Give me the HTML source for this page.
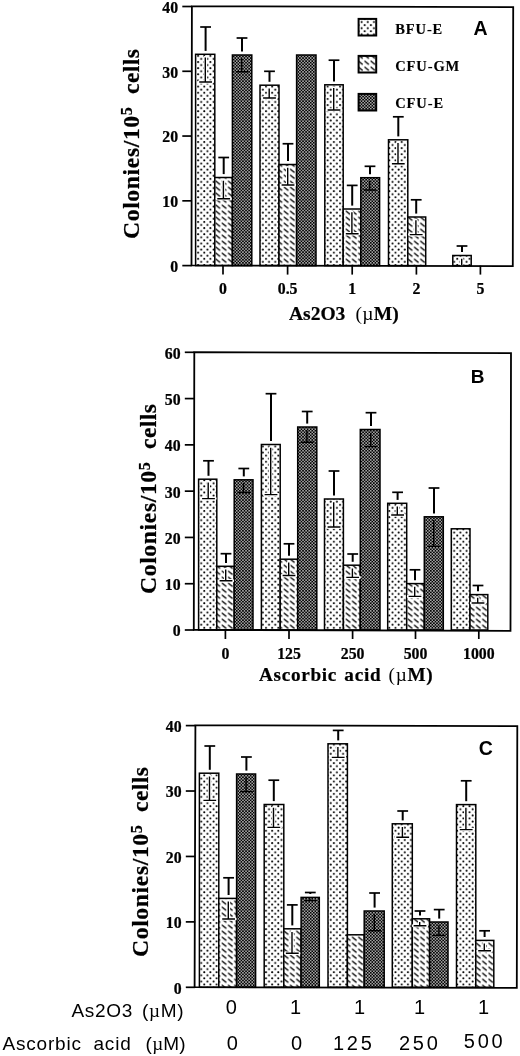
<!DOCTYPE html>
<html lang="en">
<head>
<meta charset="utf-8">
<title>Colonies per 10^5 cells - As2O3 and ascorbic acid</title>
<style>
html,body{margin:0;padding:0;background:#fff;}
body{width:520px;height:1056px;overflow:hidden;}
svg{display:block;}
.tb{font-family:"Liberation Serif","DejaVu Serif",serif;font-weight:bold;fill:#000;stroke:#000;stroke-width:0.35px;}
.tk{stroke-width:0.25px;}
.xt{stroke-width:0.2px;}
.yt{stroke-width:0.22px;}
.lg{stroke-width:0.15px;}
.tr{font-family:"Liberation Serif","DejaVu Serif",serif;font-weight:normal;stroke:none;}
.sy{font-family:"Liberation Serif","DejaVu Serif",serif;font-weight:normal;stroke:none;}
.hb{font-family:"Liberation Sans","DejaVu Sans",sans-serif;font-weight:bold;fill:#000;}
.hr{font-family:"Liberation Sans","DejaVu Sans",sans-serif;font-weight:normal;fill:#000;}
</style>
</head>
<body>
<svg width="520" height="1056">
<defs>
<pattern id="dots" patternUnits="userSpaceOnUse" width="6.17" height="6.15" x="2.26" y="2.15">
<rect width="6.17" height="6.15" fill="#fff"/>
<circle cx="1.5" cy="1.5" r="1.02" fill="#000"/>
<circle cx="4.58" cy="4.57" r="1.02" fill="#000"/>
</pattern>
<pattern id="diag" patternUnits="userSpaceOnUse" width="6.2" height="6" x="4.3" y="0.3">
<rect width="6.2" height="6" fill="#fff"/>
<path d="M1 0.9L4.7 3.9" stroke="#000" stroke-width="1.35" stroke-linecap="round"/>
</pattern>
<pattern id="dark" patternUnits="userSpaceOnUse" width="3.08" height="3.08" x="0.4" y="0.3">
<rect width="3.08" height="3.08" fill="#000"/>
<rect x="0" y="0" width="1.54" height="1.54" fill="#a4a4a4"/>
<rect x="1.54" y="1.54" width="1.54" height="1.54" fill="#a4a4a4"/>
</pattern>
</defs>
<rect width="520" height="1056" fill="#fff"/>
<!-- Panel A -->
<rect x="195.6" y="54.3" width="19.2" height="211.3" fill="url(#dots)" stroke="#000" stroke-width="1.5"/>
<rect x="214.8" y="177.5" width="17.6" height="88.1" fill="url(#diag)" stroke="#000" stroke-width="1.5"/>
<rect x="232.4" y="55" width="19.4" height="210.6" fill="url(#dark)" stroke="#000" stroke-width="1.5"/>
<rect x="260" y="85.2" width="19" height="180.4" fill="url(#dots)" stroke="#000" stroke-width="1.5"/>
<rect x="279" y="164.5" width="17.6" height="101.1" fill="url(#diag)" stroke="#000" stroke-width="1.5"/>
<rect x="296.6" y="55" width="19.4" height="210.6" fill="url(#dark)" stroke="#000" stroke-width="1.5"/>
<rect x="324.8" y="84.8" width="18.4" height="180.8" fill="url(#dots)" stroke="#000" stroke-width="1.5"/>
<rect x="343.2" y="209" width="17.6" height="56.6" fill="url(#diag)" stroke="#000" stroke-width="1.5"/>
<rect x="360.8" y="177.7" width="18.8" height="87.9" fill="url(#dark)" stroke="#000" stroke-width="1.5"/>
<rect x="388.5" y="139.8" width="19.3" height="125.8" fill="url(#dots)" stroke="#000" stroke-width="1.5"/>
<rect x="407.8" y="217" width="17.9" height="48.6" fill="url(#diag)" stroke="#000" stroke-width="1.5"/>
<rect x="452.8" y="255.5" width="18.4" height="10.1" fill="url(#dots)" stroke="#000" stroke-width="1.5"/>
<path d="M200.2 27H211" fill="none" stroke="#000" stroke-width="1.7"/>
<path d="M205.6 27V50.9" fill="none" stroke="#000" stroke-width="2"/>
<path d="M205.3 57.5V82M199.2 82H212" fill="none" stroke="#fff" stroke-width="3.6" stroke-linecap="round"/>
<path d="M205.3 57.5V82M199.2 82H212" fill="none" stroke="#000" stroke-width="1.4"/>
<path d="M218.3 157.5H229.1" fill="none" stroke="#000" stroke-width="1.7"/>
<path d="M223.7 157.5V174.1" fill="none" stroke="#000" stroke-width="2"/>
<path d="M223.4 180.7V198.75M217.3 198.75H230.1" fill="none" stroke="#fff" stroke-width="3.6" stroke-linecap="round"/>
<path d="M223.4 180.7V198.75M217.3 198.75H230.1" fill="none" stroke="#000" stroke-width="1.4"/>
<path d="M236.6 38H247.4" fill="none" stroke="#000" stroke-width="1.7"/>
<path d="M242 38V51.6" fill="none" stroke="#000" stroke-width="2"/>
<path d="M241.7 58.2V71.8M235.6 71.8H248.4" fill="none" stroke="#000" stroke-width="1.4"/>
<path d="M264.1 71.3H274.9" fill="none" stroke="#000" stroke-width="1.7"/>
<path d="M269.5 71.3V81.8" fill="none" stroke="#000" stroke-width="2"/>
<path d="M269.2 88.4V98M263.1 98H275.9" fill="none" stroke="#fff" stroke-width="3.6" stroke-linecap="round"/>
<path d="M269.2 88.4V98M263.1 98H275.9" fill="none" stroke="#000" stroke-width="1.4"/>
<path d="M282.6 143.75H293.4" fill="none" stroke="#000" stroke-width="1.7"/>
<path d="M288 143.75V161.1" fill="none" stroke="#000" stroke-width="2"/>
<path d="M287.7 167.7V185M281.6 185H294.4" fill="none" stroke="#fff" stroke-width="3.6" stroke-linecap="round"/>
<path d="M287.7 167.7V185M281.6 185H294.4" fill="none" stroke="#000" stroke-width="1.4"/>
<path d="M328.6 60.2H339.4" fill="none" stroke="#000" stroke-width="1.7"/>
<path d="M334 60.2V81.4" fill="none" stroke="#000" stroke-width="2"/>
<path d="M333.7 88V110M327.6 110H340.4" fill="none" stroke="#fff" stroke-width="3.6" stroke-linecap="round"/>
<path d="M333.7 88V110M327.6 110H340.4" fill="none" stroke="#000" stroke-width="1.4"/>
<path d="M346.8 185.4H357.6" fill="none" stroke="#000" stroke-width="1.7"/>
<path d="M352.2 185.4V205.6" fill="none" stroke="#000" stroke-width="2"/>
<path d="M351.9 212.2V233.7M345.8 233.7H358.6" fill="none" stroke="#fff" stroke-width="3.6" stroke-linecap="round"/>
<path d="M351.9 212.2V233.7M345.8 233.7H358.6" fill="none" stroke="#000" stroke-width="1.4"/>
<path d="M364.6 166.3H375.4" fill="none" stroke="#000" stroke-width="1.7"/>
<path d="M370 166.3V174.3" fill="none" stroke="#000" stroke-width="2"/>
<path d="M369.7 180.9V190M363.6 190H376.4" fill="none" stroke="#000" stroke-width="1.4"/>
<path d="M392.9 116.8H403.7" fill="none" stroke="#000" stroke-width="1.7"/>
<path d="M398.3 116.8V136.4" fill="none" stroke="#000" stroke-width="2"/>
<path d="M398 143V163.8M391.9 163.8H404.7" fill="none" stroke="#fff" stroke-width="3.6" stroke-linecap="round"/>
<path d="M398 143V163.8M391.9 163.8H404.7" fill="none" stroke="#000" stroke-width="1.4"/>
<path d="M410.8 199.8H421.6" fill="none" stroke="#000" stroke-width="1.7"/>
<path d="M416.2 199.8V213.6" fill="none" stroke="#000" stroke-width="2"/>
<path d="M415.9 220.2V234.6M409.8 234.6H422.6" fill="none" stroke="#fff" stroke-width="3.6" stroke-linecap="round"/>
<path d="M415.9 220.2V234.6M409.8 234.6H422.6" fill="none" stroke="#000" stroke-width="1.4"/>
<path d="M456.6 246H467.4" fill="none" stroke="#000" stroke-width="1.7"/>
<path d="M462 246V252.1" fill="none" stroke="#000" stroke-width="2"/>
<path d="M461.7 258.7V265" fill="none" stroke="#fff" stroke-width="3.6" stroke-linecap="round"/>
<path d="M461.7 258.7V265" fill="none" stroke="#000" stroke-width="1.4"/>
<polygon points="191.9,6.3 513.2,7.1 512.8,266.2 191.5,265.4" fill="none" stroke="#000" stroke-width="1.8" stroke-linejoin="miter"/>
<path d="M182.3 265.6H191.7" stroke="#000" stroke-width="1.7"/>
<text transform="translate(178.1 272) scale(0.93 1)" text-anchor="end" class="tb tk" font-size="17">0</text>
<path d="M182.3 200.83H191.7" stroke="#000" stroke-width="1.7"/>
<text transform="translate(178.1 207.23) scale(0.93 1)" text-anchor="end" class="tb tk" font-size="17">10</text>
<path d="M182.3 136.05H191.7" stroke="#000" stroke-width="1.7"/>
<text transform="translate(178.1 142.45) scale(0.93 1)" text-anchor="end" class="tb tk" font-size="17">20</text>
<path d="M182.3 71.28H191.7" stroke="#000" stroke-width="1.7"/>
<text transform="translate(178.1 77.67) scale(0.93 1)" text-anchor="end" class="tb tk" font-size="17">30</text>
<path d="M182.3 6.5H191.7" stroke="#000" stroke-width="1.7"/>
<text transform="translate(178.1 12.9) scale(0.93 1)" text-anchor="end" class="tb tk" font-size="17">40</text>
<path d="M223 265.6V274.6" stroke="#000" stroke-width="1.7"/>
<text transform="translate(223 293.5) scale(0.93 1)" text-anchor="middle" class="tb tk" font-size="17">0</text>
<path d="M287.6 265.6V274.6" stroke="#000" stroke-width="1.7"/>
<text transform="translate(287.6 293.5) scale(0.93 1)" text-anchor="middle" class="tb tk" font-size="17">0.5</text>
<path d="M352.2 265.6V274.6" stroke="#000" stroke-width="1.7"/>
<text transform="translate(352.2 293.5) scale(0.93 1)" text-anchor="middle" class="tb tk" font-size="17">1</text>
<path d="M416.4 265.6V274.6" stroke="#000" stroke-width="1.7"/>
<text transform="translate(416.4 293.5) scale(0.93 1)" text-anchor="middle" class="tb tk" font-size="17">2</text>
<path d="M480.4 265.6V274.6" stroke="#000" stroke-width="1.7"/>
<text transform="translate(480.4 293.5) scale(0.93 1)" text-anchor="middle" class="tb tk" font-size="17">5</text>
<text transform="translate(139 239) rotate(-90)" class="tb yt" font-size="23.6" letter-spacing="0.65">Colonies/10<tspan font-size="16.05" dy="-7.08">5</tspan><tspan dy="7.08" letter-spacing="0.4" xml:space="preserve">  cells</tspan></text>
<text x="289" y="320" class="tb xt" font-size="19.5" xml:space="preserve">As2O3  <tspan class="tr" dx="0.5" letter-spacing="0.2">(</tspan><tspan class="sy" letter-spacing="0.2">µ</tspan><tspan letter-spacing="0.2">M)</tspan></text>
<text x="473.6" y="35" class="hb" font-size="19.5">A</text>
<rect x="358.6" y="18.9" width="17.6" height="16.6" fill="url(#dots)" stroke="#000" stroke-width="2"/>
<text x="395.2" y="33.8" class="tb lg" font-size="14.5" letter-spacing="0.9">BFU-E</text>
<rect x="358.6" y="55.9" width="17.6" height="16.6" fill="url(#diag)" stroke="#000" stroke-width="2"/>
<text x="395.2" y="70.8" class="tb lg" font-size="14.5" letter-spacing="0.9">CFU-GM</text>
<rect x="358.6" y="93.9" width="17.6" height="16.6" fill="url(#dark)" stroke="#000" stroke-width="2"/>
<text x="395.2" y="108.2" class="tb lg" font-size="14.5" letter-spacing="0.9">CFU-E</text>
<!-- Panel B -->
<rect x="198.6" y="479.2" width="18.2" height="150.8" fill="url(#dots)" stroke="#000" stroke-width="1.5"/>
<rect x="216.8" y="566.3" width="17.4" height="63.7" fill="url(#diag)" stroke="#000" stroke-width="1.5"/>
<rect x="234.2" y="479.8" width="18.8" height="150.2" fill="url(#dark)" stroke="#000" stroke-width="1.5"/>
<rect x="261.4" y="444.5" width="18.8" height="185.5" fill="url(#dots)" stroke="#000" stroke-width="1.5"/>
<rect x="280.2" y="559.2" width="17.5" height="70.8" fill="url(#diag)" stroke="#000" stroke-width="1.5"/>
<rect x="297.7" y="427" width="19.1" height="203" fill="url(#dark)" stroke="#000" stroke-width="1.5"/>
<rect x="324.5" y="499" width="18.9" height="131" fill="url(#dots)" stroke="#000" stroke-width="1.5"/>
<rect x="343.4" y="565.2" width="16.9" height="64.8" fill="url(#diag)" stroke="#000" stroke-width="1.5"/>
<rect x="360.3" y="429.5" width="19.7" height="200.5" fill="url(#dark)" stroke="#000" stroke-width="1.5"/>
<rect x="387.7" y="503.3" width="19" height="126.7" fill="url(#dots)" stroke="#000" stroke-width="1.5"/>
<rect x="406.7" y="583.6" width="17.6" height="46.4" fill="url(#diag)" stroke="#000" stroke-width="1.5"/>
<rect x="424.3" y="516.8" width="19" height="113.2" fill="url(#dark)" stroke="#000" stroke-width="1.5"/>
<rect x="451.3" y="528.8" width="18.7" height="101.2" fill="url(#dots)" stroke="#000" stroke-width="1.5"/>
<rect x="470" y="594.6" width="17.8" height="35.4" fill="url(#diag)" stroke="#000" stroke-width="1.5"/>
<path d="M203.1 460.8H213.9" fill="none" stroke="#000" stroke-width="1.7"/>
<path d="M208.5 460.8V475.8" fill="none" stroke="#000" stroke-width="2"/>
<path d="M208.2 482.4V498.6M202.1 498.6H214.9" fill="none" stroke="#fff" stroke-width="3.6" stroke-linecap="round"/>
<path d="M208.2 482.4V498.6M202.1 498.6H214.9" fill="none" stroke="#000" stroke-width="1.4"/>
<path d="M220.6 553.7H231.4" fill="none" stroke="#000" stroke-width="1.7"/>
<path d="M226 553.7V562.9" fill="none" stroke="#000" stroke-width="2"/>
<path d="M225.7 569.5V580.8M219.6 580.8H232.4" fill="none" stroke="#fff" stroke-width="3.6" stroke-linecap="round"/>
<path d="M225.7 569.5V580.8M219.6 580.8H232.4" fill="none" stroke="#000" stroke-width="1.4"/>
<path d="M238.4 468.5H249.2" fill="none" stroke="#000" stroke-width="1.7"/>
<path d="M243.8 468.5V476.4" fill="none" stroke="#000" stroke-width="2"/>
<path d="M243.5 483V492.5M237.4 492.5H250.2" fill="none" stroke="#000" stroke-width="1.4"/>
<path d="M265.6 393.7H276.4" fill="none" stroke="#000" stroke-width="1.7"/>
<path d="M271 393.7V441.1" fill="none" stroke="#000" stroke-width="2"/>
<path d="M270.7 447.7V494.6M264.6 494.6H277.4" fill="none" stroke="#fff" stroke-width="3.6" stroke-linecap="round"/>
<path d="M270.7 447.7V494.6M264.6 494.6H277.4" fill="none" stroke="#000" stroke-width="1.4"/>
<path d="M283.6 543.8H294.4" fill="none" stroke="#000" stroke-width="1.7"/>
<path d="M289 543.8V555.8" fill="none" stroke="#000" stroke-width="2"/>
<path d="M288.7 562.4V575.5M282.6 575.5H295.4" fill="none" stroke="#fff" stroke-width="3.6" stroke-linecap="round"/>
<path d="M288.7 562.4V575.5M282.6 575.5H295.4" fill="none" stroke="#000" stroke-width="1.4"/>
<path d="M301.8 411.5H312.6" fill="none" stroke="#000" stroke-width="1.7"/>
<path d="M307.2 411.5V423.6" fill="none" stroke="#000" stroke-width="2"/>
<path d="M306.9 430.2V442.3M300.8 442.3H313.6" fill="none" stroke="#000" stroke-width="1.4"/>
<path d="M328.6 471H339.4" fill="none" stroke="#000" stroke-width="1.7"/>
<path d="M334 471V495.6" fill="none" stroke="#000" stroke-width="2"/>
<path d="M333.7 502.2V527M327.6 527H340.4" fill="none" stroke="#fff" stroke-width="3.6" stroke-linecap="round"/>
<path d="M333.7 502.2V527M327.6 527H340.4" fill="none" stroke="#000" stroke-width="1.4"/>
<path d="M347.3 554H358.1" fill="none" stroke="#000" stroke-width="1.7"/>
<path d="M352.7 554V561.8" fill="none" stroke="#000" stroke-width="2"/>
<path d="M352.4 568.4V577.4M346.3 577.4H359.1" fill="none" stroke="#fff" stroke-width="3.6" stroke-linecap="round"/>
<path d="M352.4 568.4V577.4M346.3 577.4H359.1" fill="none" stroke="#000" stroke-width="1.4"/>
<path d="M365.6 412.7H376.4" fill="none" stroke="#000" stroke-width="1.7"/>
<path d="M371 412.7V426.1" fill="none" stroke="#000" stroke-width="2"/>
<path d="M370.7 432.7V446.6M364.6 446.6H377.4" fill="none" stroke="#000" stroke-width="1.4"/>
<path d="M392.2 492.3H403" fill="none" stroke="#000" stroke-width="1.7"/>
<path d="M397.6 492.3V499.9" fill="none" stroke="#000" stroke-width="2"/>
<path d="M397.3 506.5V515M391.2 515H404" fill="none" stroke="#fff" stroke-width="3.6" stroke-linecap="round"/>
<path d="M397.3 506.5V515M391.2 515H404" fill="none" stroke="#000" stroke-width="1.4"/>
<path d="M409.6 569.8H420.4" fill="none" stroke="#000" stroke-width="1.7"/>
<path d="M415 569.8V580.2" fill="none" stroke="#000" stroke-width="2"/>
<path d="M414.7 586.8V596.4M408.6 596.4H421.4" fill="none" stroke="#fff" stroke-width="3.6" stroke-linecap="round"/>
<path d="M414.7 586.8V596.4M408.6 596.4H421.4" fill="none" stroke="#000" stroke-width="1.4"/>
<path d="M428.6 488H439.4" fill="none" stroke="#000" stroke-width="1.7"/>
<path d="M434 488V513.4" fill="none" stroke="#000" stroke-width="2"/>
<path d="M433.7 520V546.4M427.6 546.4H440.4" fill="none" stroke="#000" stroke-width="1.4"/>
<path d="M472.6 585.5H483.4" fill="none" stroke="#000" stroke-width="1.7"/>
<path d="M478 585.5V591.2" fill="none" stroke="#000" stroke-width="2"/>
<path d="M477.7 597.8V603M471.6 603H484.4" fill="none" stroke="#fff" stroke-width="3.6" stroke-linecap="round"/>
<path d="M477.7 597.8V603M471.6 603H484.4" fill="none" stroke="#000" stroke-width="1.4"/>
<polygon points="194.3,352.2 511,353.1 510.5,630.8 193.8,629.8" fill="none" stroke="#000" stroke-width="1.8" stroke-linejoin="miter"/>
<path d="M184.8 630H194.2" stroke="#000" stroke-width="1.7"/>
<text transform="translate(180.6 636.4) scale(0.93 1)" text-anchor="end" class="tb tk" font-size="17">0</text>
<path d="M184.8 583.72H194.2" stroke="#000" stroke-width="1.7"/>
<text transform="translate(180.6 590.12) scale(0.93 1)" text-anchor="end" class="tb tk" font-size="17">10</text>
<path d="M184.8 537.43H194.2" stroke="#000" stroke-width="1.7"/>
<text transform="translate(180.6 543.83) scale(0.93 1)" text-anchor="end" class="tb tk" font-size="17">20</text>
<path d="M184.8 491.15H194.2" stroke="#000" stroke-width="1.7"/>
<text transform="translate(180.6 497.55) scale(0.93 1)" text-anchor="end" class="tb tk" font-size="17">30</text>
<path d="M184.8 444.87H194.2" stroke="#000" stroke-width="1.7"/>
<text transform="translate(180.6 451.27) scale(0.93 1)" text-anchor="end" class="tb tk" font-size="17">40</text>
<path d="M184.8 398.58H194.2" stroke="#000" stroke-width="1.7"/>
<text transform="translate(180.6 404.98) scale(0.93 1)" text-anchor="end" class="tb tk" font-size="17">50</text>
<path d="M184.8 352.3H194.2" stroke="#000" stroke-width="1.7"/>
<text transform="translate(180.6 358.7) scale(0.93 1)" text-anchor="end" class="tb tk" font-size="17">60</text>
<path d="M225.4 630V639" stroke="#000" stroke-width="1.7"/>
<text transform="translate(225.4 658.6) scale(0.93 1)" text-anchor="middle" class="tb tk" font-size="17">0</text>
<path d="M289 630V639" stroke="#000" stroke-width="1.7"/>
<text transform="translate(289 658.6) scale(0.93 1)" text-anchor="middle" class="tb tk" font-size="17">125</text>
<path d="M352.6 630V639" stroke="#000" stroke-width="1.7"/>
<text transform="translate(352.6 658.6) scale(0.93 1)" text-anchor="middle" class="tb tk" font-size="17">250</text>
<path d="M415.5 630V639" stroke="#000" stroke-width="1.7"/>
<text transform="translate(415.5 658.6) scale(0.93 1)" text-anchor="middle" class="tb tk" font-size="17">500</text>
<path d="M478.8 630V639" stroke="#000" stroke-width="1.7"/>
<text transform="translate(478.8 658.6) scale(0.93 1)" text-anchor="middle" class="tb tk" font-size="17">1000</text>
<text transform="translate(155.5 594) rotate(-90)" class="tb yt" font-size="23.6" letter-spacing="0.65">Colonies/10<tspan font-size="16.05" dy="-5.66">5</tspan><tspan dy="5.66" letter-spacing="0.4" xml:space="preserve">  cells</tspan></text>
<text x="259" y="681.3" class="tb xt" font-size="19.2" letter-spacing="0.7" word-spacing="1.8" xml:space="preserve">Ascorbic acid <tspan class="tr">(</tspan><tspan class="sy">µ</tspan>M)</text>
<text x="470.7" y="383.2" class="hb" font-size="19">B</text>
<!-- Panel C -->
<rect x="199.4" y="773.2" width="19.4" height="214.1" fill="url(#dots)" stroke="#000" stroke-width="1.5"/>
<rect x="218.8" y="898.4" width="17.8" height="88.9" fill="url(#diag)" stroke="#000" stroke-width="1.5"/>
<rect x="236.6" y="774" width="19" height="213.3" fill="url(#dark)" stroke="#000" stroke-width="1.5"/>
<rect x="264.2" y="804.5" width="19.6" height="182.8" fill="url(#dots)" stroke="#000" stroke-width="1.5"/>
<rect x="283.8" y="928.8" width="17.3" height="58.5" fill="url(#diag)" stroke="#000" stroke-width="1.5"/>
<rect x="301.1" y="897.4" width="18.2" height="89.9" fill="url(#dark)" stroke="#000" stroke-width="1.5"/>
<rect x="328" y="743.8" width="19.4" height="243.5" fill="url(#dots)" stroke="#000" stroke-width="1.5"/>
<rect x="347.4" y="934.8" width="16.8" height="52.5" fill="url(#diag)" stroke="#000" stroke-width="1.5"/>
<rect x="364.2" y="911" width="20" height="76.3" fill="url(#dark)" stroke="#000" stroke-width="1.5"/>
<rect x="392.3" y="823.8" width="20" height="163.5" fill="url(#dots)" stroke="#000" stroke-width="1.5"/>
<rect x="412.3" y="918.8" width="17.3" height="68.5" fill="url(#diag)" stroke="#000" stroke-width="1.5"/>
<rect x="429.6" y="922" width="18.4" height="65.3" fill="url(#dark)" stroke="#000" stroke-width="1.5"/>
<rect x="456.5" y="804.6" width="19.3" height="182.7" fill="url(#dots)" stroke="#000" stroke-width="1.5"/>
<rect x="475.8" y="940.4" width="18" height="46.9" fill="url(#diag)" stroke="#000" stroke-width="1.5"/>
<path d="M204.4 746H215.2" fill="none" stroke="#000" stroke-width="1.7"/>
<path d="M209.8 746V769.8" fill="none" stroke="#000" stroke-width="2"/>
<path d="M209.5 776.4V800.4M203.4 800.4H216.2" fill="none" stroke="#fff" stroke-width="3.6" stroke-linecap="round"/>
<path d="M209.5 776.4V800.4M203.4 800.4H216.2" fill="none" stroke="#000" stroke-width="1.4"/>
<path d="M223.2 877.8H234" fill="none" stroke="#000" stroke-width="1.7"/>
<path d="M228.6 877.8V895" fill="none" stroke="#000" stroke-width="2"/>
<path d="M228.3 901.6V919M222.2 919H235" fill="none" stroke="#fff" stroke-width="3.6" stroke-linecap="round"/>
<path d="M228.3 901.6V919M222.2 919H235" fill="none" stroke="#000" stroke-width="1.4"/>
<path d="M241 757H251.8" fill="none" stroke="#000" stroke-width="1.7"/>
<path d="M246.4 757V770.6" fill="none" stroke="#000" stroke-width="2"/>
<path d="M246.1 777.2V791.6M240 791.6H252.8" fill="none" stroke="#000" stroke-width="1.4"/>
<path d="M268.4 780.2H279.2" fill="none" stroke="#000" stroke-width="1.7"/>
<path d="M273.8 780.2V801.1" fill="none" stroke="#000" stroke-width="2"/>
<path d="M273.5 807.7V827.4M267.4 827.4H280.2" fill="none" stroke="#fff" stroke-width="3.6" stroke-linecap="round"/>
<path d="M273.5 807.7V827.4M267.4 827.4H280.2" fill="none" stroke="#000" stroke-width="1.4"/>
<path d="M286.9 904.9H297.7" fill="none" stroke="#000" stroke-width="1.7"/>
<path d="M292.3 904.9V925.4" fill="none" stroke="#000" stroke-width="2"/>
<path d="M292 932V953.3M285.9 953.3H298.7" fill="none" stroke="#fff" stroke-width="3.6" stroke-linecap="round"/>
<path d="M292 932V953.3M285.9 953.3H298.7" fill="none" stroke="#000" stroke-width="1.4"/>
<path d="M304.9 892.5H315.7" fill="none" stroke="#000" stroke-width="1.7"/>
<path d="M310.3 892.5V894" fill="none" stroke="#000" stroke-width="2"/>
<path d="M310 898.4V900.6M303.9 900.6H316.7" fill="none" stroke="#000" stroke-width="1.4"/>
<path d="M332.8 730.4H343.6" fill="none" stroke="#000" stroke-width="1.7"/>
<path d="M338.2 730.4V740.4" fill="none" stroke="#000" stroke-width="2"/>
<path d="M337.9 747V757.4M331.8 757.4H344.6" fill="none" stroke="#fff" stroke-width="3.6" stroke-linecap="round"/>
<path d="M337.9 747V757.4M331.8 757.4H344.6" fill="none" stroke="#000" stroke-width="1.4"/>
<path d="M369.2 893H380" fill="none" stroke="#000" stroke-width="1.7"/>
<path d="M374.6 893V907.6" fill="none" stroke="#000" stroke-width="2"/>
<path d="M374.3 914.2V930.8M368.2 930.8H381" fill="none" stroke="#000" stroke-width="1.4"/>
<path d="M397.3 811H408.1" fill="none" stroke="#000" stroke-width="1.7"/>
<path d="M402.7 811V820.4" fill="none" stroke="#000" stroke-width="2"/>
<path d="M402.4 827V837.3M396.3 837.3H409.1" fill="none" stroke="#fff" stroke-width="3.6" stroke-linecap="round"/>
<path d="M402.4 827V837.3M396.3 837.3H409.1" fill="none" stroke="#000" stroke-width="1.4"/>
<path d="M414.6 911H425.4" fill="none" stroke="#000" stroke-width="1.7"/>
<path d="M420 911V915.4" fill="none" stroke="#000" stroke-width="2"/>
<path d="M419.7 922V925.8M413.6 925.8H426.4" fill="none" stroke="#fff" stroke-width="3.6" stroke-linecap="round"/>
<path d="M419.7 922V925.8M413.6 925.8H426.4" fill="none" stroke="#000" stroke-width="1.4"/>
<path d="M433.8 909.6H444.6" fill="none" stroke="#000" stroke-width="1.7"/>
<path d="M439.2 909.6V918.6" fill="none" stroke="#000" stroke-width="2"/>
<path d="M438.9 925.2V935.4M432.8 935.4H445.6" fill="none" stroke="#000" stroke-width="1.4"/>
<path d="M460.8 780.8H471.6" fill="none" stroke="#000" stroke-width="1.7"/>
<path d="M466.2 780.8V801.2" fill="none" stroke="#000" stroke-width="2"/>
<path d="M465.9 807.8V829.6M459.8 829.6H472.6" fill="none" stroke="#fff" stroke-width="3.6" stroke-linecap="round"/>
<path d="M465.9 807.8V829.6M459.8 829.6H472.6" fill="none" stroke="#000" stroke-width="1.4"/>
<path d="M479.2 930.8H490" fill="none" stroke="#000" stroke-width="1.7"/>
<path d="M484.6 930.8V937" fill="none" stroke="#000" stroke-width="2"/>
<path d="M484.3 943.6V950.8M478.2 950.8H491" fill="none" stroke="#fff" stroke-width="3.6" stroke-linecap="round"/>
<path d="M484.3 943.6V950.8M478.2 950.8H491" fill="none" stroke="#000" stroke-width="1.4"/>
<polygon points="195.4,725.3 517.3,726.2 516.8,987.8 194.6,987.2" fill="none" stroke="#000" stroke-width="1.8" stroke-linejoin="miter"/>
<path d="M185.8 987.3H195.2" stroke="#000" stroke-width="1.7"/>
<text transform="translate(181.6 993.7) scale(0.93 1)" text-anchor="end" class="tb tk" font-size="17">0</text>
<path d="M185.8 921.88H195.2" stroke="#000" stroke-width="1.7"/>
<text transform="translate(181.6 928.27) scale(0.93 1)" text-anchor="end" class="tb tk" font-size="17">10</text>
<path d="M185.8 856.45H195.2" stroke="#000" stroke-width="1.7"/>
<text transform="translate(181.6 862.85) scale(0.93 1)" text-anchor="end" class="tb tk" font-size="17">20</text>
<path d="M185.8 791.02H195.2" stroke="#000" stroke-width="1.7"/>
<text transform="translate(181.6 797.42) scale(0.93 1)" text-anchor="end" class="tb tk" font-size="17">30</text>
<path d="M185.8 725.6H195.2" stroke="#000" stroke-width="1.7"/>
<text transform="translate(181.6 732) scale(0.93 1)" text-anchor="end" class="tb tk" font-size="17">40</text>
<text transform="translate(148.4 957) rotate(-90)" class="tb yt" font-size="23.6" letter-spacing="0.65">Colonies/10<tspan font-size="16.05" dy="-6.37">5</tspan><tspan dy="6.37" letter-spacing="0.4" xml:space="preserve">  cells</tspan></text>
<text x="478.8" y="755.2" class="hb" font-size="19.5">C</text>
<text x="71.5" y="1017.3" class="hr" font-size="19" letter-spacing="0.7">As2O3</text>
<text x="142" y="1017.3" class="hr" font-size="19" letter-spacing="0.7">(<tspan class="sy">µ</tspan>M)</text>
<text x="2.5" y="1050" class="hr" font-size="19" letter-spacing="0.8">Ascorbic</text>
<text x="93.5" y="1050" class="hr" font-size="19" letter-spacing="0.8">acid</text>
<text x="145.6" y="1050" class="hr" font-size="19" letter-spacing="0.2">(<tspan class="sy">µ</tspan>M)</text>
<text x="231.3" y="1014.2" text-anchor="middle" class="hr" font-size="20">0</text>
<text x="290" y="1014" class="hr" font-size="20" xml:space="preserve">1 </text>
<text x="354" y="1014" class="hr" font-size="20" xml:space="preserve">1 </text>
<text x="414" y="1014" class="hr" font-size="20" xml:space="preserve">1 </text>
<text x="478" y="1014" class="hr" font-size="20" xml:space="preserve">1 </text>
<text x="232.3" y="1050.2" text-anchor="middle" class="hr" font-size="20" xml:space="preserve"> 0 </text>
<text x="296.5" y="1050.2" text-anchor="middle" class="hr" font-size="20" xml:space="preserve"> 0 </text>
<text x="353.8" y="1049.8" text-anchor="middle" class="hr" font-size="20" letter-spacing="2.8">125</text>
<text x="419.8" y="1049.8" text-anchor="middle" class="hr" font-size="20" letter-spacing="2.8">250</text>
<text x="484.6" y="1048" text-anchor="middle" class="hr" font-size="20" letter-spacing="2.8">500</text>
</svg>
</body>
</html>
